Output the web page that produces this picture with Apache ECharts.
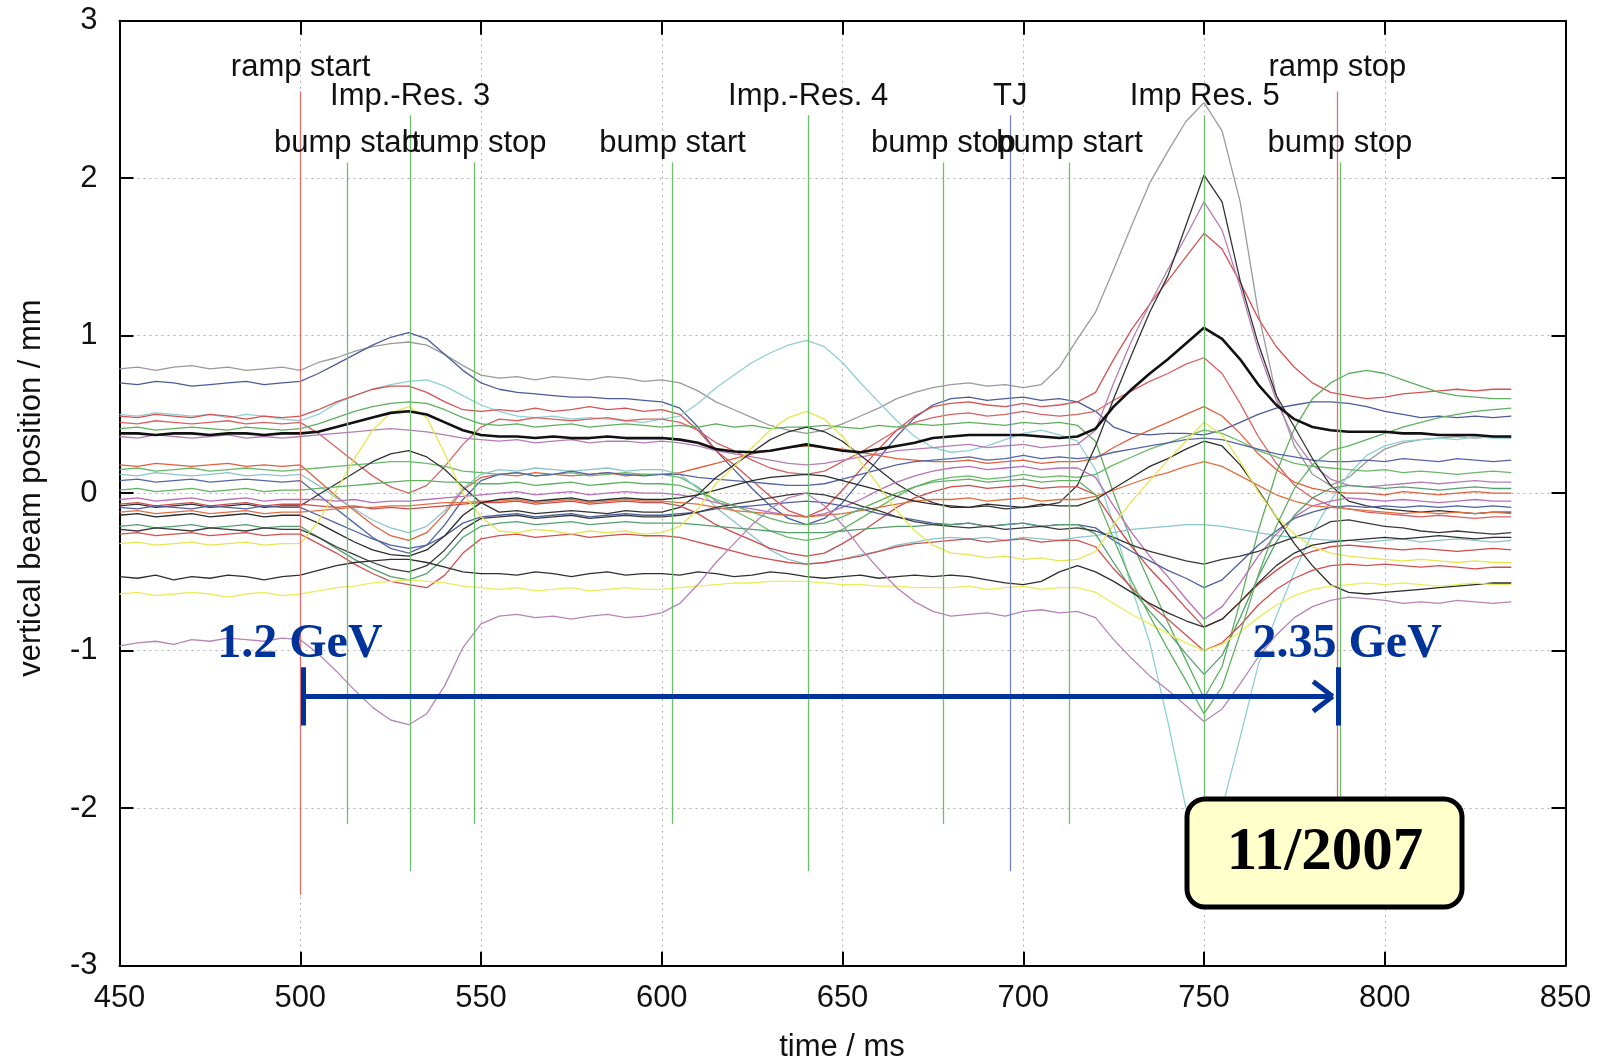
<!DOCTYPE html>
<html><head><meta charset="utf-8">
<script src="https://cdn.jsdelivr.net/npm/echarts@6/dist/echarts.min.js"></script>
<style>html,body{margin:0;padding:0;background:#fff}#c{width:1605px;height:1061px}</style>
</head><body><div id="c"></div>
<script>
// ---------------- DATA ----------------
const T = [450,455,460,465,470,475,480,485,490,495,500,505,510,515,520,525,530,535,540,545,550,
555,560,565,570,575,580,585,590,595,600,605,610,615,620,625,630,635,640,645,650,655,660,665,670,675,680,
685,690,695,700,705,710,715,720,725,730,735,740,745,750,755,760,765,770,775,780,785,790,
795,800,805,810,815,820,825,830,835];

const meanTrace = [0.38,0.38,0.37,0.38,0.38,0.37,0.38,0.38,0.37,0.38,0.38,
0.39,0.42,0.45,0.48,0.51,0.52,0.50,0.45,0.40,0.37,
0.36,0.36,0.35,0.36,0.35,0.35,0.36,0.35,0.35,0.35,
0.34,0.32,0.28,0.265,0.26,0.27,0.29,0.31,0.29,0.27,0.26,0.28,0.30,0.32,0.35,0.36,
0.37,0.37,0.37,0.37,0.36,0.35,0.36,
0.41,0.55,0.66,0.76,0.85,0.95,1.05,0.98,0.85,0.69,0.56,0.47,0.42,0.40,0.39,
0.39,0.39,0.38,0.38,0.37,0.37,0.37,0.36,0.36];

const bpm01 = [0.79,0.80,0.78,0.80,0.81,0.79,0.80,0.78,0.79,0.80,0.78,
0.83,0.86,0.90,0.93,0.95,0.96,0.94,0.88,0.81,0.75,
0.73,0.74,0.72,0.74,0.73,0.72,0.74,0.73,0.71,0.72,
0.70,0.65,0.58,0.53,0.48,0.43,0.40,0.38,0.40,0.44,0.49,0.54,0.60,0.64,0.67,0.69,
0.70,0.68,0.69,0.67,0.69,0.80,0.98,
1.15,1.42,1.70,1.97,2.17,2.36,2.48,2.30,1.85,1.15,0.62,0.30,0.12,0.05,0.10,
0.20,0.28,0.32,0.34,0.35,0.36,0.35,0.36,0.35];

const bpm02 = [0.70,0.69,0.71,0.70,0.68,0.69,0.70,0.71,0.69,0.70,0.71,
0.76,0.82,0.88,0.94,0.99,1.02,0.98,0.88,0.78,0.70,
0.66,0.64,0.63,0.62,0.61,0.61,0.60,0.60,0.59,0.58,
0.54,0.42,0.27,0.15,0.03,-0.08,-0.16,-0.20,-0.16,-0.06,0.08,0.22,0.36,0.48,0.56,0.60,
0.61,0.59,0.60,0.61,0.59,0.60,0.58,
0.52,0.42,0.38,0.37,0.38,0.38,0.37,0.40,0.45,0.50,0.54,0.56,0.58,0.58,0.57,
0.55,0.52,0.50,0.48,0.49,0.48,0.49,0.48,0.49];

const bpm03 = [0.50,0.49,0.51,0.50,0.49,0.50,0.48,0.50,0.49,0.47,0.46,
0.50,0.57,0.62,0.66,0.69,0.71,0.72,0.68,0.62,0.56,
0.52,0.49,0.48,0.49,0.47,0.48,0.47,0.46,0.45,0.47,
0.49,0.57,0.67,0.75,0.83,0.89,0.94,0.97,0.93,0.83,0.70,0.58,0.46,0.36,0.29,0.26,
0.27,0.30,0.34,0.38,0.40,0.37,0.33,
0.15,-0.20,-0.60,-0.95,-1.45,-2.00,-2.30,-2.00,-1.55,-1.09,-0.78,-0.50,-0.25,-0.05,0.12,
0.24,0.30,0.33,0.34,0.35,0.34,0.36,0.35,0.35];

const bpm04 = [0.49,0.48,0.50,0.49,0.48,0.50,0.49,0.47,0.49,0.48,0.49,
0.53,0.58,0.62,0.66,0.68,0.68,0.64,0.58,0.53,0.52,
0.53,0.52,0.54,0.52,0.53,0.55,0.53,0.54,0.52,0.53,
0.50,0.40,0.27,0.18,0.08,-0.02,-0.11,-0.15,-0.10,0.02,0.15,0.28,0.40,0.49,0.55,0.57,
0.58,0.56,0.55,0.57,0.55,0.56,0.58,
0.64,0.85,1.04,1.20,1.35,1.50,1.65,1.55,1.34,1.11,0.93,0.80,0.70,0.64,0.62,
0.60,0.61,0.63,0.64,0.65,0.66,0.65,0.66,0.66];

const bpm05 = [0.45,0.44,0.46,0.45,0.44,0.45,0.46,0.44,0.45,0.44,0.45,
0.38,0.29,0.20,0.11,0.04,0.00,0.05,0.17,0.31,0.42,
0.47,0.46,0.48,0.47,0.46,0.47,0.48,0.46,0.47,0.47,
0.45,0.40,0.32,0.27,0.21,0.16,0.13,0.12,0.14,0.20,0.26,0.33,0.40,0.45,0.48,0.50,
0.51,0.49,0.50,0.52,0.50,0.49,0.50,
0.52,0.59,0.65,0.71,0.76,0.82,0.86,0.76,0.57,0.36,0.19,0.05,-0.03,-0.08,-0.10,
-0.12,-0.13,-0.14,-0.15,-0.14,-0.15,-0.16,-0.15,-0.15];

const bpm06 = [0.41,0.42,0.40,0.41,0.42,0.41,0.40,0.42,0.41,0.40,0.41,
0.44,0.48,0.52,0.55,0.57,0.58,0.57,0.53,0.48,0.44,
0.43,0.44,0.42,0.43,0.44,0.42,0.43,0.44,0.43,0.42,
0.43,0.42,0.44,0.42,0.43,0.41,0.42,0.42,0.43,0.42,0.41,0.43,0.42,0.44,0.43,0.44,
0.45,0.44,0.43,0.45,0.44,0.45,0.43,
0.33,0.00,-0.31,-0.57,-0.82,-1.06,-1.30,-1.10,-0.69,-0.24,0.13,0.41,0.60,0.70,0.76,
0.78,0.76,0.72,0.68,0.64,0.62,0.61,0.60,0.60];

const bpm07 = [0.36,0.35,0.37,0.36,0.35,0.36,0.37,0.35,0.36,0.35,0.36,
0.37,0.38,0.39,0.40,0.41,0.40,0.39,0.37,0.35,0.34,
0.33,0.34,0.32,0.33,0.34,0.32,0.33,0.33,0.32,0.33,
0.32,0.30,0.27,0.25,0.23,0.21,0.19,0.18,0.19,0.21,0.23,0.25,0.27,0.28,0.29,0.30,
0.31,0.29,0.30,0.31,0.29,0.30,0.31,
0.40,0.70,0.97,1.20,1.42,1.63,1.85,1.67,1.31,0.91,0.59,0.34,0.18,0.09,0.05,
0.04,0.05,0.06,0.07,0.06,0.07,0.08,0.07,0.07];

const bpm08 = [0.18,0.17,0.19,0.18,0.17,0.18,0.19,0.17,0.18,0.17,0.18,
0.08,-0.02,-0.11,-0.20,-0.27,-0.30,-0.25,-0.13,0.02,0.10,
0.12,0.11,0.13,0.12,0.11,0.12,0.13,0.11,0.12,0.12,
0.13,0.16,0.19,0.22,0.25,0.27,0.29,0.30,0.29,0.28,0.26,0.24,0.22,0.21,0.20,0.20,
0.21,0.19,0.20,0.21,0.19,0.20,0.20,
0.22,0.29,0.35,0.40,0.45,0.50,0.55,0.49,0.38,0.25,0.15,0.07,0.03,0.01,0.00,
0.00,-0.01,0.01,0.00,-0.01,0.00,0.01,0.00,0.00];

const bpm09 = [0.15,0.16,0.14,0.15,0.16,0.14,0.15,0.16,0.15,0.14,0.15,
0.16,0.17,0.18,0.19,0.20,0.20,0.19,0.17,0.14,0.13,
0.12,0.13,0.11,0.12,0.13,0.11,0.12,0.13,0.12,0.12,
0.10,0.04,-0.05,-0.11,-0.17,-0.24,-0.28,-0.30,-0.28,-0.23,-0.16,-0.09,-0.02,0.04,0.08,0.10,
0.11,0.09,0.10,0.12,0.10,0.11,0.10,
0.12,0.18,0.23,0.28,0.32,0.36,0.40,0.38,0.33,0.27,0.23,0.19,0.17,0.16,0.15,
0.14,0.15,0.13,0.14,0.13,0.12,0.13,0.14,0.13];

const bpm10 = [0.12,0.11,0.13,0.12,0.11,0.12,0.13,0.11,0.12,0.11,0.12,
0.05,-0.03,-0.10,-0.17,-0.22,-0.25,-0.21,-0.11,0.03,0.12,
0.15,0.14,0.16,0.15,0.14,0.15,0.16,0.14,0.15,0.15,
0.12,0.03,-0.09,-0.18,-0.27,-0.36,-0.42,-0.45,-0.44,-0.42,-0.39,-0.37,-0.33,-0.31,-0.29,-0.28,
-0.29,-0.28,-0.30,-0.28,-0.29,-0.30,-0.28,
-0.27,-0.25,-0.23,-0.22,-0.21,-0.20,-0.20,-0.21,-0.23,-0.25,-0.27,-0.28,-0.29,-0.30,-0.30,
-0.31,-0.30,-0.29,-0.31,-0.30,-0.29,-0.30,-0.31,-0.30];

const bpm11 = [0.08,0.09,0.07,0.08,0.09,0.07,0.08,0.09,0.08,0.07,0.08,
-0.01,-0.10,-0.19,-0.28,-0.35,-0.38,-0.33,-0.20,-0.04,0.08,
0.12,0.13,0.11,0.12,0.14,0.12,0.13,0.12,0.11,0.12,
0.12,0.10,0.09,0.08,0.07,0.06,0.05,0.05,0.06,0.09,0.12,0.15,0.18,0.20,0.21,0.22,
0.23,0.21,0.22,0.24,0.22,0.23,0.22,
0.23,0.26,0.28,0.30,0.32,0.34,0.35,0.34,0.31,0.28,0.25,0.23,0.21,0.20,0.20,
0.21,0.20,0.22,0.21,0.20,0.22,0.21,0.20,0.21];

const bpm12 = [-0.08,-0.07,-0.09,-0.08,-0.07,-0.09,-0.08,-0.07,-0.09,-0.08,-0.08,
-0.01,0.06,0.13,0.20,0.25,0.27,0.23,0.15,0.04,-0.06,
-0.12,-0.11,-0.13,-0.12,-0.11,-0.12,-0.13,-0.11,-0.12,-0.12,
-0.09,-0.01,0.10,0.18,0.26,0.34,0.39,0.42,0.39,0.33,0.24,0.15,0.06,-0.01,-0.06,-0.09,
-0.09,-0.08,-0.10,-0.09,-0.08,-0.06,0.05,
0.30,0.60,0.88,1.15,1.38,1.70,2.02,1.85,1.35,0.95,0.62,0.42,0.22,0.05,-0.05,
-0.08,-0.10,-0.11,-0.12,-0.11,-0.12,-0.13,-0.12,-0.12];

const bpm13 = [-0.04,-0.03,-0.05,-0.04,-0.03,-0.05,-0.04,-0.03,-0.05,-0.04,-0.04,
-0.04,-0.05,-0.04,-0.06,-0.05,-0.05,-0.04,-0.03,-0.02,-0.01,
0.00,0.01,-0.01,0.00,0.01,-0.01,0.00,0.01,0.00,0.00,
-0.01,-0.03,-0.06,-0.08,-0.10,-0.12,-0.14,-0.15,-0.13,-0.09,-0.04,0.02,0.07,0.11,0.14,0.16,
0.17,0.15,0.16,0.17,0.15,0.16,0.16,
0.10,-0.08,-0.25,-0.40,-0.53,-0.67,-0.80,-0.72,-0.57,-0.40,-0.26,-0.15,-0.08,-0.05,-0.03,
-0.04,-0.05,-0.04,-0.05,-0.06,-0.05,-0.04,-0.05,-0.05];

const bpm14 = [-0.07,-0.06,-0.08,-0.07,-0.06,-0.08,-0.07,-0.06,-0.08,-0.07,-0.07,
-0.08,-0.09,-0.08,-0.10,-0.09,-0.10,-0.09,-0.08,-0.07,-0.06,
-0.06,-0.05,-0.07,-0.06,-0.05,-0.07,-0.06,-0.05,-0.06,-0.06,
-0.08,-0.13,-0.20,-0.25,-0.30,-0.35,-0.38,-0.40,-0.38,-0.32,-0.25,-0.17,-0.09,-0.03,0.01,0.04,
0.05,0.03,0.04,0.05,0.03,0.04,0.04,
-0.01,-0.18,-0.34,-0.48,-0.60,-0.73,-0.85,-0.80,-0.69,-0.58,-0.49,-0.41,-0.37,-0.34,-0.33,
-0.34,-0.35,-0.36,-0.35,-0.36,-0.37,-0.36,-0.35,-0.36];

const bpm15 = [-0.09,-0.10,-0.08,-0.09,-0.10,-0.08,-0.09,-0.10,-0.08,-0.09,-0.09,
-0.14,-0.19,-0.24,-0.29,-0.33,-0.35,-0.33,-0.27,-0.19,-0.15,
-0.14,-0.13,-0.15,-0.14,-0.13,-0.15,-0.14,-0.13,-0.14,-0.14,
-0.13,-0.12,-0.10,-0.09,-0.08,-0.07,-0.06,-0.05,-0.06,-0.08,-0.10,-0.13,-0.15,-0.17,-0.19,-0.20,
-0.19,-0.21,-0.20,-0.19,-0.21,-0.20,-0.20,
-0.22,-0.30,-0.37,-0.43,-0.49,-0.54,-0.60,-0.55,-0.44,-0.33,-0.24,-0.16,-0.12,-0.09,-0.08,
-0.09,-0.08,-0.09,-0.08,-0.09,-0.08,-0.09,-0.08,-0.09];

const bpm16 = [-0.12,-0.11,-0.13,-0.12,-0.11,-0.13,-0.12,-0.11,-0.13,-0.12,-0.12,
-0.11,-0.10,-0.09,-0.09,-0.08,-0.08,-0.07,-0.06,-0.06,-0.05,
-0.05,-0.04,-0.06,-0.05,-0.04,-0.06,-0.05,-0.04,-0.05,-0.05,
-0.06,-0.07,-0.09,-0.11,-0.12,-0.13,-0.14,-0.15,-0.14,-0.13,-0.11,-0.09,-0.07,-0.05,-0.04,-0.04,
-0.03,-0.05,-0.04,-0.03,-0.05,-0.04,-0.04,
-0.02,0.02,0.06,0.10,0.13,0.17,0.20,0.17,0.11,0.05,-0.01,-0.05,-0.08,-0.09,-0.10,
-0.11,-0.12,-0.13,-0.12,-0.13,-0.12,-0.13,-0.12,-0.13];

const bpm17 = [-0.14,-0.13,-0.15,-0.14,-0.13,-0.15,-0.14,-0.13,-0.15,-0.14,-0.14,
-0.19,-0.25,-0.31,-0.36,-0.39,-0.40,-0.36,-0.27,-0.14,-0.06,
-0.04,-0.03,-0.05,-0.04,-0.03,-0.05,-0.04,-0.03,-0.04,-0.04,
-0.03,-0.01,0.02,0.05,0.08,0.10,0.11,0.12,0.11,0.08,0.05,0.02,-0.02,-0.05,-0.07,-0.08,
-0.09,-0.07,-0.08,-0.09,-0.07,-0.08,-0.08,
-0.04,0.03,0.10,0.17,0.22,0.28,0.33,0.30,0.18,0.02,-0.15,-0.32,-0.46,-0.58,-0.63,
-0.64,-0.63,-0.62,-0.61,-0.60,-0.59,-0.58,-0.57,-0.57];

const bpm18 = [-0.21,-0.20,-0.22,-0.21,-0.20,-0.22,-0.21,-0.20,-0.22,-0.21,-0.21,
-0.28,-0.35,-0.42,-0.48,-0.53,-0.55,-0.51,-0.41,-0.28,-0.21,
-0.19,-0.18,-0.20,-0.19,-0.18,-0.20,-0.19,-0.18,-0.19,-0.19,
-0.19,-0.20,-0.21,-0.22,-0.23,-0.24,-0.25,-0.25,-0.25,-0.24,-0.23,-0.22,-0.21,-0.21,-0.20,-0.20,
-0.19,-0.21,-0.20,-0.19,-0.21,-0.20,-0.20,
-0.26,-0.44,-0.61,-0.75,-0.88,-1.02,-1.15,-1.03,-0.79,-0.53,-0.31,-0.14,-0.03,0.03,0.05,
0.04,0.03,0.04,0.03,0.02,0.03,0.04,0.03,0.03];

const bpm19 = [-0.23,-0.24,-0.22,-0.23,-0.24,-0.22,-0.23,-0.24,-0.22,-0.23,-0.23,
-0.28,-0.34,-0.39,-0.44,-0.48,-0.50,-0.46,-0.36,-0.23,-0.16,
-0.15,-0.14,-0.16,-0.15,-0.14,-0.16,-0.15,-0.14,-0.15,-0.15,
-0.14,-0.12,-0.09,-0.07,-0.05,-0.03,-0.01,0.00,-0.01,-0.04,-0.08,-0.11,-0.15,-0.18,-0.20,-0.21,
-0.22,-0.21,-0.23,-0.22,-0.21,-0.23,-0.22,
-0.24,-0.28,-0.33,-0.37,-0.40,-0.43,-0.45,-0.42,-0.40,-0.37,-0.32,-0.28,-0.24,-0.18,-0.17,
-0.19,-0.21,-0.22,-0.24,-0.25,-0.24,-0.25,-0.26,-0.25];

const bpm20 = [-0.26,-0.25,-0.27,-0.26,-0.25,-0.27,-0.26,-0.25,-0.27,-0.26,-0.26,
-0.32,-0.38,-0.45,-0.51,-0.56,-0.58,-0.60,-0.52,-0.38,-0.29,
-0.27,-0.26,-0.28,-0.27,-0.26,-0.28,-0.27,-0.26,-0.27,-0.27,
-0.28,-0.31,-0.34,-0.37,-0.40,-0.42,-0.44,-0.45,-0.44,-0.42,-0.40,-0.37,-0.34,-0.32,-0.31,-0.30,
-0.29,-0.31,-0.30,-0.29,-0.31,-0.30,-0.30,
-0.34,-0.48,-0.60,-0.71,-0.80,-0.90,-1.00,-0.95,-0.84,-0.71,-0.61,-0.54,-0.49,-0.46,-0.45,
-0.46,-0.45,-0.46,-0.47,-0.46,-0.47,-0.48,-0.47,-0.47];

const bpm21 = [-0.32,-0.31,-0.33,-0.32,-0.31,-0.33,-0.32,-0.31,-0.33,-0.32,-0.32,
-0.18,0.02,0.22,0.40,0.51,0.55,0.48,0.25,0.00,-0.15,
-0.24,-0.25,-0.23,-0.24,-0.26,-0.24,-0.25,-0.24,-0.26,-0.25,
-0.21,-0.10,0.06,0.17,0.29,0.40,0.48,0.52,0.47,0.36,0.20,0.05,-0.11,-0.24,-0.33,-0.38,
-0.39,-0.41,-0.40,-0.42,-0.41,-0.43,-0.42,
-0.37,-0.20,-0.05,0.08,0.21,0.33,0.45,0.37,0.20,0.01,-0.15,-0.26,-0.34,-0.38,-0.40,
-0.41,-0.42,-0.43,-0.42,-0.43,-0.44,-0.43,-0.44,-0.44];

const bpm22 = [-0.53,-0.54,-0.52,-0.55,-0.53,-0.54,-0.52,-0.53,-0.55,-0.53,-0.52,
-0.49,-0.46,-0.44,-0.43,-0.42,-0.42,-0.44,-0.47,-0.50,-0.51,
-0.51,-0.52,-0.50,-0.51,-0.53,-0.51,-0.50,-0.52,-0.51,-0.51,
-0.52,-0.50,-0.51,-0.53,-0.52,-0.50,-0.51,-0.53,-0.54,-0.53,-0.52,-0.54,-0.53,-0.52,-0.53,-0.52,
-0.53,-0.55,-0.57,-0.58,-0.56,-0.50,-0.46,
-0.50,-0.56,-0.63,-0.70,-0.76,-0.81,-0.85,-0.80,-0.69,-0.57,-0.46,-0.38,-0.33,-0.31,-0.30,
-0.29,-0.28,-0.29,-0.28,-0.27,-0.28,-0.29,-0.28,-0.28];

const bpm23 = [-0.64,-0.63,-0.65,-0.64,-0.63,-0.64,-0.66,-0.64,-0.63,-0.65,-0.64,
-0.62,-0.60,-0.59,-0.57,-0.56,-0.55,-0.56,-0.57,-0.59,-0.60,
-0.61,-0.60,-0.62,-0.61,-0.60,-0.62,-0.61,-0.60,-0.61,-0.61,
-0.60,-0.59,-0.58,-0.57,-0.57,-0.56,-0.56,-0.56,-0.57,-0.58,-0.58,-0.59,-0.59,-0.60,-0.60,-0.60,
-0.59,-0.61,-0.60,-0.59,-0.61,-0.60,-0.60,
-0.63,-0.70,-0.77,-0.83,-0.89,-0.95,-1.00,-0.96,-0.88,-0.79,-0.71,-0.65,-0.61,-0.59,-0.58,
-0.57,-0.58,-0.57,-0.58,-0.59,-0.58,-0.57,-0.58,-0.58];

const bpm24 = [-0.97,-0.95,-0.94,-0.96,-0.93,-0.94,-0.92,-0.93,-0.94,-0.92,-0.93,
-1.02,-1.13,-1.25,-1.36,-1.44,-1.47,-1.40,-1.22,-0.98,-0.83,
-0.78,-0.77,-0.79,-0.78,-0.80,-0.78,-0.77,-0.79,-0.78,-0.76,
-0.70,-0.58,-0.44,-0.32,-0.20,-0.10,-0.03,0.00,-0.08,-0.20,-0.35,-0.48,-0.60,-0.69,-0.75,-0.78,
-0.77,-0.76,-0.78,-0.75,-0.74,-0.76,-0.75,
-0.79,-0.93,-1.05,-1.16,-1.25,-1.35,-1.45,-1.37,-1.21,-1.04,-0.90,-0.79,-0.72,-0.68,-0.66,
-0.67,-0.68,-0.70,-0.69,-0.70,-0.68,-0.69,-0.70,-0.69];

const bpm25 = [0.02,0.03,0.01,0.02,0.03,0.01,0.02,0.03,0.01,0.02,0.02,
0.03,0.04,0.05,0.06,0.07,0.08,0.08,0.07,0.07,0.06,
0.06,0.07,0.05,0.06,0.07,0.05,0.06,0.07,0.06,0.06,
0.05,0.01,-0.04,-0.08,-0.12,-0.16,-0.19,-0.20,-0.19,-0.15,-0.10,-0.05,0.00,0.04,0.07,0.08,
0.09,0.07,0.08,0.09,0.07,0.08,0.08,
-0.01,-0.29,-0.56,-0.78,-0.99,-1.19,-1.40,-1.23,-0.89,-0.52,-0.21,0.03,0.18,0.27,0.30,
0.34,0.38,0.42,0.45,0.48,0.50,0.52,0.53,0.54];

// event markers (time in ms)
const markerTimes  = [500.1, 513.0, 530.4, 548.1, 603.0, 640.5, 677.9, 696.4, 712.8, 750.2, 786.9, 787.6];
const markerLabels = ['ramp start','bump start','Imp.-Res. 3','bump stop','bump start','Imp.-Res. 4','bump stop','TJ','bump start','Imp Res. 5','ramp stop','bump stop'];
const markerKinds  = ['ramp','bump','imp','bump','bump','imp','bump','tj','bump','imp','ramp','bump'];

// energy ramp annotation
const rampEnergies = ['1.2 GeV', '2.35 GeV'];
const rampTimes = [500.8, 787.0];
const dateLabel = '11/2007';

// x / y tick setup
const xMin = 450, xMax = 850, xStep = 50;
const yMin = -3, yMax = 3, yStep = 1;

// ---------------- STYLE ----------------
const SANS = "'Liberation Sans', Arial, Helvetica, sans-serif";
const SERIF = "'Liberation Serif', 'Times New Roman', serif";
const BLUE = '#003399';

const curves = [
  [bpm01,'#9a9a9a'],[bpm02,'#4b5c9c'],[bpm03,'#8ed0d2'],[bpm04,'#d45454'],[bpm05,'#d96262'],
  [bpm06,'#5fae5f'],[bpm07,'#b67cb6'],[bpm08,'#e0603c'],[bpm09,'#6ab86a'],[bpm10,'#8cc4cc'],
  [bpm11,'#5565a8'],[bpm12,'#333333'],[bpm13,'#b870b8'],[bpm14,'#cc4c4c'],[bpm15,'#4f60a0'],
  [bpm16,'#e07040'],[bpm17,'#2a2a2a'],[bpm18,'#55a070'],[bpm19,'#3a3a3a'],[bpm20,'#d05050'],
  [bpm21,'#e6e650'],[bpm22,'#303030'],[bpm23,'#ecec5c'],[bpm24,'#b884b8'],[bpm25,'#62b062']
];

const kindStyle = {
  ramp: {color:'#e07070', half:2.55, labelY:2.70},
  bump: {color:'#6cbf6c', half:2.10, labelY:2.22},
  imp:  {color:'#6cbf6c', half:2.40, labelY:2.52},
  tj:   {color:'#7585c4', half:2.40, labelY:2.52}
};

const series = [];
curves.forEach(([vals,color],k)=>{
  series.push({
    type:'line', name:'bpm'+(k+1), data:T.map((t,i)=>[t,vals[i]]),
    showSymbol:false, symbol:'none', z:2, silent:true,
    lineStyle:{color:color, width:1.3}
  });
});
series.push({
  type:'line', name:'mean', data:T.map((t,i)=>[t,meanTrace[i]]),
  showSymbol:false, symbol:'none', z:3, silent:true,
  lineStyle:{color:'#111111', width:2.6}
});

// marker lines
series.push({
  type:'line', data:[], z:4, silent:true,
  markLine:{
    silent:true, symbol:['none','none'], label:{show:false}, animation:false,
    data: markerTimes.map((t,i)=>{
      const s = kindStyle[markerKinds[i]];
      return [{coord:[t, s.half], lineStyle:{color:s.color, width:1.3, type:'solid'}}, {coord:[t, -s.half]}];
    })
  }
});
// marker labels
series.push({
  type:'scatter', z:6, silent:true, symbolSize:0.1,
  data: markerTimes.map((t,i)=>({value:[t, kindStyle[markerKinds[i]].labelY], label:{formatter:markerLabels[i]}})),
  label:{show:true, position:'inside', fontFamily:SANS, fontSize:31, color:'#111111', opacity:1},
  itemStyle:{color:'rgba(0,0,0,0)', opacity:1}
});

// energy arrow
const arrowY = -1.29, barTop = -1.105, barBot = -1.475;
const tipX = rampTimes[1] - 1.4;
series.push({
  type:'line', data:[], z:7, silent:true,
  markLine:{
    silent:true, symbol:['none','none'], label:{show:false}, animation:false,
    lineStyle:{color:BLUE, width:5, type:'solid'},
    data:[
      [{coord:[rampTimes[0], arrowY]},{coord:[tipX, arrowY]}],
      [{coord:[rampTimes[0], barTop]},{coord:[rampTimes[0], barBot]}],
      [{coord:[rampTimes[1], barTop]},{coord:[rampTimes[1], barBot]}],
      [{coord:[tipX-5.4, arrowY+0.095]},{coord:[tipX, arrowY]}],
      [{coord:[tipX, arrowY]},{coord:[tipX-5.4, arrowY-0.095]}]
    ]
  }
});
series.push({
  type:'scatter', z:8, silent:true, symbolSize:0.1,
  data:[{value:[499.9,-0.96], label:{formatter:rampEnergies[0]}},{value:[789.6,-0.96], label:{formatter:rampEnergies[1]}}],
  label:{show:true, position:'inside', fontFamily:SERIF, fontWeight:'bold', fontSize:48, color:BLUE, opacity:1},
  itemStyle:{color:'rgba(0,0,0,0)', opacity:1}
});

const axisCommon = {
  type:'value',
  axisLine:{show:true, onZero:false, lineStyle:{color:'#000', width:2}},
  axisTick:{show:true, inside:true, length:14, lineStyle:{color:'#000', width:2}},
  splitLine:{show:false}
};

const option = {
  animation:false,
  backgroundColor:'#ffffff',
  grid:{left:119.5, right:39.5, top:20.7, bottom:95.3, containLabel:false, outerBoundsMode:'none'},
  xAxis:[
    Object.assign({}, axisCommon, {min:xMin, max:xMax, interval:xStep, position:'bottom',
      axisLabel:{fontFamily:SANS, fontSize:31, color:'#111111', margin:17},
      splitLine:{show:true, lineStyle:{color:'#b0b0b0', width:1, type:[2,4]}}}),
    Object.assign({}, axisCommon, {min:xMin, max:xMax, interval:xStep, position:'top', axisLabel:{show:false}})
  ],
  yAxis:[
    Object.assign({}, axisCommon, {min:yMin, max:yMax, interval:yStep, position:'left',
      axisLabel:{fontFamily:SANS, fontSize:31, color:'#111111', margin:22},
      splitLine:{show:true, lineStyle:{color:'#b0b0b0', width:1, type:[2,4]}}}),
    Object.assign({}, axisCommon, {min:yMin, max:yMax, interval:yStep, position:'right', axisLabel:{show:false}})
  ],
  series: series,
  graphic:[
    {type:'text', z:50, style:{text:'time / ms', x:842, y:1047, font:"31px 'Liberation Sans', Arial, sans-serif", fill:'#111111', align:'center', verticalAlign:'middle', textAlign:'center', textVerticalAlign:'middle'}},
    {type:'text', z:50, x:31, y:488, rotation:Math.PI/2, style:{text:'vertical beam position / mm', x:0, y:0, font:"31px 'Liberation Sans', Arial, sans-serif", fill:'#111111', align:'center', verticalAlign:'middle', textAlign:'center', textVerticalAlign:'middle'}},
    {type:'rect', z:60, shape:{x:1187, y:799, width:275, height:108, r:18}, style:{fill:'#ffffcc', stroke:'#000', lineWidth:5}},
    {type:'text', z:61, style:{text:dateLabel, x:1325, y:853, font:"bold 61px 'Liberation Serif', 'Times New Roman', serif", fill:'#000', align:'center', verticalAlign:'middle', textAlign:'center', textVerticalAlign:'middle'}}
  ]
};

const chart = echarts.init(document.getElementById('c'), null, {renderer:'canvas'});
chart.setOption(option);
</script>
</body></html>
